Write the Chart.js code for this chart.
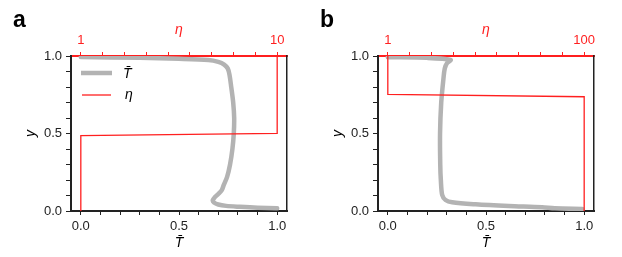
<!DOCTYPE html>
<html>
<head>
<meta charset="utf-8">
<script src="https://cdn.jsdelivr.net/npm/chart.js@4.4.0/dist/chart.umd.min.js"></script>
<style>
  html, body { margin: 0; padding: 0; background: #fff; }
  .panel { position: absolute; top: 0; width: 311px; height: 257px; }
</style>
</head>
<body>
<div class="panel" style="left:0"><canvas id="chartA" width="311" height="257"></canvas></div>
<div class="panel" style="left:311px"><canvas id="chartB" width="311" height="257"></canvas></div>
<script>
// panel a: mean temperature profile, viscosity jumps 1 -> 10
var yA = [0.017, 0.021, 0.027, 0.033, 0.042, 0.055, 0.07, 0.088, 0.11, 0.135, 0.168, 0.22, 0.3,
          0.4, 0.5, 0.6, 0.7, 0.8, 0.88, 0.92, 0.945, 0.962, 0.974, 0.982, 0.988, 0.993];
var tA = [1.0, 0.90, 0.81, 0.74, 0.70, 0.678, 0.672, 0.682, 0.70, 0.718, 0.728, 0.745, 0.76,
          0.772, 0.779, 0.781, 0.776, 0.766, 0.757, 0.748, 0.73, 0.70, 0.65, 0.5, 0.3, 0.0];
var etaYA = [0, 0.486, 0.501, 1];
var etaA = [1, 1, 10, 10];
var etaTicksA = [1, 2, 3, 4, 5, 6, 7, 8, 9, 10];
var etaLabelsA = [1, 10];

// panel b: viscosity jumps 100 -> 1
var yB = [0.013, 0.017, 0.024, 0.032, 0.043, 0.056, 0.071, 0.103, 0.2, 0.3, 0.5, 0.7, 0.85,
          0.92, 0.955, 0.975, 0.988, 0.992];
var tB = [0.99, 0.85, 0.786, 0.616, 0.447, 0.328, 0.294, 0.277, 0.27, 0.267, 0.266, 0.272, 0.283,
          0.29, 0.302, 0.32, 0.2, 0.0];
var etaYB = [1, 0.753, 0.737, 0];
var etaB = [1, 1, 100, 100];
var etaTicksB = [1, 12, 23, 34, 45, 56, 67, 78, 89, 100];
var etaLabelsB = [1, 100];

var tTicks = [0, 0.1, 0.2, 0.3, 0.4, 0.5, 0.6, 0.7, 0.8, 0.9, 1.0];
var tLabels = [0, 0.5, 1.0];
var yTicks = [0, 0.1, 0.2, 0.3, 0.4, 0.5, 0.6, 0.7, 0.8, 0.9, 1.0];
var yLabels = [0, 0.5, 1.0];

var FONT = "'Liberation Sans', Arial, Helvetica, sans-serif";
var GREY = '#b3b3b3';
var RED = '#ff1f1f';
var AXIS = '#222';
Chart.defaults.font.family = FONT;

function pairs(xs, ys) {
    return xs.map(function (x, i) { return { x: x, y: ys[i] }; });
}

function setTicks(list) {
    return function (scale) {
        scale.ticks = list.map(function (v) { return { value: v }; });
    };
}

var decorations = {
    id: 'decorations',
    afterDraw: function (chart, args, opts) {
        var ctx = chart.ctx;
        var area = chart.chartArea;
        ctx.save();
        ctx.fillStyle = '#000';
        ctx.font = 'bold 23px ' + FONT;
        ctx.textBaseline = 'alphabetic';
        ctx.fillText(opts.letter, opts.letterX, 27);
        if (opts.legend) {
            var lx = area.left + 10, ly = area.top + 17;
            ctx.lineCap = 'butt';
            ctx.strokeStyle = GREY;
            ctx.lineWidth = 4.5;
            ctx.beginPath(); ctx.moveTo(lx, ly); ctx.lineTo(lx + 31, ly); ctx.stroke();
            ctx.strokeStyle = RED;
            ctx.lineWidth = 1.3;
            ctx.beginPath(); ctx.moveTo(lx + 1, ly + 22); ctx.lineTo(lx + 30, ly + 22); ctx.stroke();
            ctx.fillStyle = '#000';
            ctx.font = 'italic 14px ' + FONT;
            ctx.textBaseline = 'middle';
            ctx.fillText('T\u0304', lx + 42, ly + 1);
            ctx.fillText('\u03b7', lx + 44, ly + 22);
        }
        ctx.restore();
    }
};

function makePanel(id, cfg) {
    var etaMin = cfg.etaTicks[0], etaMax = cfg.etaTicks[cfg.etaTicks.length - 1];
    var etaPad = (etaMax - etaMin) * 0.05;
    return new Chart(document.getElementById(id), {
        type: 'scatter',
        data: {
            datasets: [{
                data: pairs(cfg.eta, cfg.etaY),
                xAxisID: 'x2',
                yAxisID: 'y',
                showLine: true,
                borderColor: RED,
                borderWidth: 1.3,
                pointRadius: 0,
                tension: 0,
                order: 0
            }, {
                data: pairs(cfg.t, cfg.y),
                xAxisID: 'x',
                yAxisID: 'y',
                showLine: true,
                borderColor: GREY,
                borderWidth: 4.5,
                borderCapStyle: 'round',
                borderJoinStyle: 'round',
                pointRadius: 0,
                tension: 0.3,
                order: 1
            }]
        },
        options: {
            responsive: false,
            animation: false,
            layout: { padding: { left: 0, right: cfg.padRight, top: 0, bottom: 0 } },
            plugins: {
                legend: { display: false },
                tooltip: { enabled: false },
                decorations: { letter: cfg.letter, letterX: cfg.letterX, legend: cfg.legend }
            },
            scales: {
                x: {
                    type: 'linear',
                    position: 'bottom',
                    min: -0.05,
                    max: 1.05,
                    afterBuildTicks: setTicks(tTicks),
                    afterFit: function (s) { s.height = 46; },
                    ticks: {
                        autoSkip: false,
                        maxRotation: 0,
                        padding: 4,
                        color: AXIS,
                        font: { size: 13 },
                        callback: function (v) { return tLabels.indexOf(v) >= 0 ? v.toFixed(1) : ''; }
                    },
                    grid: { drawOnChartArea: false, tickLength: 4, color: AXIS, lineWidth: 1 },
                    border: { color: AXIS, width: 2 },
                    title: {
                        display: true,
                        text: 'T\u0304',
                        color: '#000',
                        font: { size: 14, style: 'italic' },
                        padding: { top: 0, bottom: 5 }
                    }
                },
                x2: {
                    type: 'linear',
                    position: 'top',
                    min: etaMin - etaPad,
                    max: etaMax + etaPad,
                    afterBuildTicks: setTicks(cfg.etaTicks),
                    afterFit: function (s) { s.height = 56; },
                    ticks: {
                        autoSkip: false,
                        maxRotation: 0,
                        padding: 4,
                        color: RED,
                        font: { size: 13 },
                        callback: function (v) { return cfg.etaLabels.indexOf(v) >= 0 ? String(v) : ''; }
                    },
                    grid: { drawOnChartArea: false, tickLength: 4, color: RED, lineWidth: 1 },
                    border: { color: RED, width: 2 },
                    title: {
                        display: true,
                        text: '\u03b7',
                        color: RED,
                        font: { size: 14, style: 'italic' },
                        padding: { top: 22, bottom: 0 }
                    }
                },
                y: {
                    type: 'linear',
                    position: 'left',
                    min: 0,
                    max: 1,
                    afterBuildTicks: setTicks(yTicks),
                    afterFit: function (s) { s.width = cfg.yWidth; },
                    ticks: {
                        autoSkip: false,
                        padding: 4,
                        color: AXIS,
                        font: { size: 13 },
                        callback: function (v) { return yLabels.indexOf(v) >= 0 ? v.toFixed(1) : ''; }
                    },
                    grid: { drawOnChartArea: false, tickLength: 5, color: AXIS, lineWidth: 1 },
                    border: { color: AXIS, width: 2 },
                    title: {
                        display: true,
                        text: 'y',
                        color: '#000',
                        font: { size: 14, style: 'italic' },
                        padding: { top: cfg.yWidth - 48, bottom: 0 }
                    }
                },
                y2: {
                    type: 'linear',
                    position: 'right',
                    min: 0,
                    max: 1,
                    afterFit: function (s) { s.width = 0; },
                    ticks: { display: false },
                    grid: { display: false },
                    border: { color: AXIS, width: 1.5 }
                }
            }
        },
        plugins: [decorations]
    });
}

makePanel('chartA', {
    t: tA, y: yA, eta: etaA, etaY: etaYA,
    etaTicks: etaTicksA, etaLabels: etaLabelsA,
    yWidth: 71, padRight: 24, letter: 'a', letterX: 13, legend: true
});
makePanel('chartB', {
    t: tB, y: yB, eta: etaB, etaY: etaYB,
    etaTicks: etaTicksB, etaLabels: etaLabelsB,
    yWidth: 67, padRight: 28, letter: 'b', letterX: 9, legend: false
});
</script>
</body>
</html>
